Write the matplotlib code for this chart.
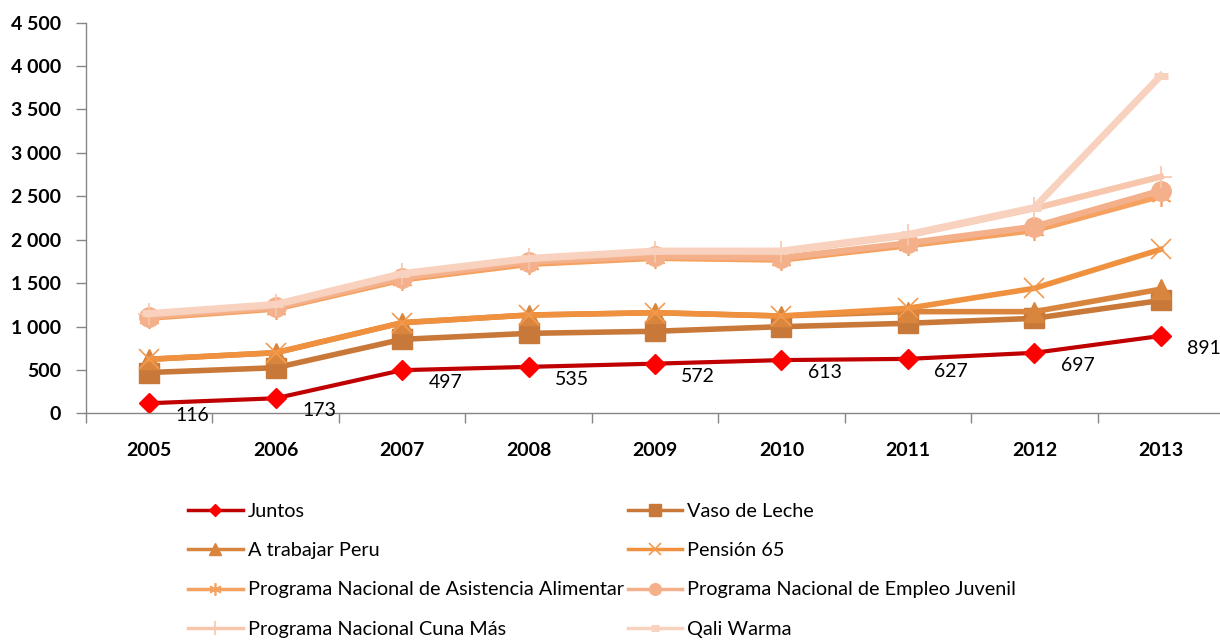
import matplotlib
matplotlib.use("Agg")
import matplotlib.pyplot as plt
from matplotlib.ticker import FuncFormatter, FixedLocator

plt.rcParams["font.family"] = ["Lato", "DejaVu Sans"]

years = ["2005", "2006", "2007", "2008", "2009", "2010", "2011", "2012", "2013"]

# stacked (cumulative) levels
juntos = [116, 173, 497, 535, 572, 613, 627, 697, 891]
vaso_de_leche = [470, 525, 852, 921, 945, 998, 1037, 1094, 1300]
a_trabajar = [622, 698, 1044, 1132, 1159, 1121, 1171, 1171, 1430]
pension_65 = [622, 698, 1044, 1132, 1159, 1121, 1210, 1440, 1889]
pronaa = [1100, 1205, 1540, 1720, 1790, 1770, 1935, 2110, 2505]
empleo_juvenil = [1115, 1220, 1560, 1745, 1810, 1790, 1960, 2150, 2565]
cuna_mas = [1140, 1245, 1600, 1775, 1860, 1860, 2050, 2360, 2726]
qali_warma = [1150, 1255, 1610, 1785, 1870, 1870, 2060, 2370, 3890]

names = ["Juntos", "Vaso de Leche", "A trabajar Peru", "Pensión 65",
         "Programa Nacional de Asistencia Alimentar",
         "Programa Nacional de Empleo Juvenil",
         "Programa Nacional Cuna Más", "Qali Warma"]
series = [juntos, vaso_de_leche, a_trabajar, pension_65, pronaa,
          empleo_juvenil, cuna_mas, qali_warma]

styles = [
    dict(color="#C00000", lw=3, marker="D", ms=10, mfc="#FF0000", mec="#FF0000"),
    dict(color="#C8793A", lw=4, marker="s", ms=14, mfc="#C8793A", mec="#C8793A"),
    dict(color="#D9853E", lw=4, marker="^", ms=14, mfc="#D9853E", mec="#D9853E"),
    dict(color="#F0913F", lw=4, marker="x", ms=14, mew=1.2, mec="#F29A4F"),
    dict(color="#F5A160", lw=4.5, marker=(6, 2, 0), ms=15, mew=1.2, mec="#F5A160"),
    dict(color="#F4B08A", lw=4.5, marker="o", ms=14, mfc="#F4B08A", mec="#F4B08A"),
    dict(color="#F8C6AC", lw=4.5, marker="+", ms=16, mew=1.2, mec="#F8C6AC"),
    dict(color="#F9D2BF", lw=5, marker="_", ms=10, mew=5, mec="#F9D2BF"),
]

fig = plt.figure(figsize=(12.2, 6.44), dpi=100)
ax = fig.add_axes([86 / 1220, 1 - 413.3 / 644, (1224 - 86) / 1220, (413.3 - 22.7) / 644])

x = list(range(len(years)))
lines = []
for name, ys, st in zip(names, series, styles):
    ln, = ax.plot(x, ys, label=name, solid_joinstyle="miter", **st)
    lines.append(ln)

for xi, v in zip(x, juntos):
    ax.annotate(f"{v}", (xi, v), xytext=(19, -9), textcoords="offset points",
                ha="left", va="center", fontsize=14)

ax.set_xlim(-0.5, len(years) - 0.5)
ax.set_ylim(0, 4500)
ax.set_yticks(range(0, 4501, 500))
ax.yaxis.set_major_formatter(FuncFormatter(lambda v, p: f"{int(v):,}".replace(",", " ")))
ax.set_xticks(x)
ax.set_xticklabels(years)
ax.xaxis.set_minor_locator(FixedLocator([i - 0.5 for i in range(len(years) + 1)]))
ax.tick_params(axis="x", which="major", length=0, pad=21, labelsize=14)
ax.tick_params(axis="x", which="minor", length=7, color="#868686", width=1)
ax.tick_params(axis="y", length=7, color="#868686", width=1, pad=11, labelsize=14)
for lab in ax.get_xticklabels() + ax.get_yticklabels():
    lab.set_fontweight("bold")

for s in ("top", "right"):
    ax.spines[s].set_visible(False)
for s in ("left", "bottom"):
    ax.spines[s].set_color("#868686")
    ax.spines[s].set_linewidth(1)

# legend is read row by row: reorder for column-first fill
order = [0, 2, 4, 6, 1, 3, 5, 7]
leg = fig.legend([lines[i] for i in order], [names[i] for i in order],
                 loc="upper left", bbox_to_anchor=(188 / 1220, 1 - 503 / 644),
                 ncol=2, frameon=False, fontsize=14.3, handlelength=2.75,
                 handletextpad=0.25, columnspacing=0.2, labelspacing=1.12,
                 borderpad=0, borderaxespad=0, markerscale=0.6)
for ln in leg.get_lines():
    ln.set_linewidth(2.5)

fig.savefig("out.png", dpi=100)
